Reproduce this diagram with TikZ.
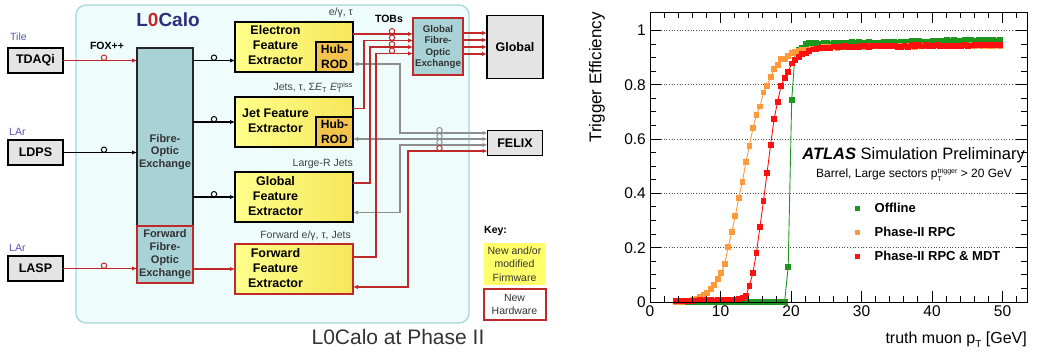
\documentclass[tikz,border=0pt]{standalone}
\usepackage{fontspec}
\setmainfont{Liberation Sans}
\usetikzlibrary{positioning,arrows.meta,calc,plotmarks}
\definecolor{calored}{HTML}{C0282A}
\definecolor{caloblue}{HTML}{2E2E7A}
\definecolor{framefill}{HTML}{EEFCFC}
\definecolor{frameline}{HTML}{A6D6D8}
\definecolor{foxteal}{HTML}{A9D2D7}
\definecolor{feleft}{HTML}{FFFF8C}
\definecolor{feright}{HTML}{F6E65A}
\definecolor{hubyellow}{HTML}{F2C44E}
\definecolor{boxgrey}{HTML}{E4E4E4}
\definecolor{linkgrey}{HTML}{8E8E8E}
\definecolor{keyyellow}{HTML}{FFFF6A}
\definecolor{detblue}{HTML}{5555B0}
\definecolor{offgreen}{HTML}{1E961E}
\definecolor{rpcorange}{HTML}{FF9A3C}
\definecolor{mdtred}{HTML}{FF1010}
\newcommand\fetext[1]{\begin{tabular}{@{}c@{}}#1\end{tabular}\rule{37pt}{0pt}}
\tikzset{
  calobox/.style={draw=frameline,line width=1.2,fill=framefill,rounded corners=10,minimum width=393,minimum height=318,inner sep=0,outer sep=0},
  sysbox/.style={draw,line width=1.3,fill=boxgrey,inner sep=0,outer sep=0,minimum width=55,minimum height=25,font=\fontsize{12.5}{15}\selectfont\bfseries},
  foxbox/.style={draw=black!85,line width=1.2,fill=foxteal,inner sep=0,outer sep=0,minimum width=56,align=center,font=\fontsize{11}{13}\selectfont\bfseries,text=black!80},
  foxtxt/.style={inner sep=0,align=center,font=\fontsize{11}{12.5}\selectfont\bfseries,text=black!80},
  newfox/.style={foxbox,draw=calored,line width=2},
  febox/.style={draw,line width=2,left color=feleft,right color=feright,inner sep=0,outer sep=0,minimum width=118,minimum height=50,font=\fontsize{12.5}{15}\selectfont\bfseries},
  newfe/.style={febox,draw=calored},
  hubbox/.style={draw,line width=1.2,fill=hubyellow,inner sep=0,outer sep=0,minimum width=37,minimum height=30,align=center,font=\fontsize{12}{15}\selectfont\bfseries},
  datalbl/.style={anchor=base east,inner sep=0,font=\fontsize{10.5}{12}\selectfont,text=black!75},
  detlbl/.style={inner sep=0,font=\fontsize{10.5}{12}\selectfont,text=detblue},
  notelbl/.style={inner sep=0,font=\fontsize{10.5}{12}\selectfont\bfseries},
  keybox/.style={inner sep=0,outer sep=0,minimum width=61,align=center,font=\fontsize{10.5}{13.3}\selectfont,text=black!80},
  link/.style={-{Latex[length=5pt,width=4.5pt]},line width=1.1},
  redlink/.style={link,draw=calored},
  greylink/.style={{Latex[length=5pt,width=4.5pt]}-{Latex[length=5pt,width=4.5pt]},line width=1.1,draw=linkgrey},
  redbilink/.style={greylink,draw=calored},
  ring/.style={line width=1},
  gridline/.style={dotted,line width=0.7,black!70},
  axisline/.style={line width=1},
  effcurve/.style={draw=#1,line width=0.9,mark=square*,mark size=2.4pt,mark options={fill=#1,draw=#1,solid}},
  ticklbl/.style={inner sep=0,font=\fontsize{15.5}{18}\selectfont},
  legmark/.style={minimum size=5,inner sep=0,outer sep=0},
  legtext/.style={inner sep=0,font=\fontsize{13}{15}\selectfont\bfseries},
}
\begin{document}
\begin{tikzpicture}[x=1pt,y=-1pt]
\useasboundingbox (0,0) rectangle (1037,353);
\node[calobox] (calo) at (272.5,164) {};
\node[inner sep=0,font=\fontsize{19}{22}\selectfont\bfseries,text=caloblue] (calotitle) at (168,20) {L\textcolor{calored}{0}Calo};
\node[sysbox] (tdaqi) at (35.5,60.5) {TDAQi};
\node[sysbox, below=67pt of tdaqi] (ldps) {LDPS};
\node[sysbox, below=91pt of ldps] (lasp) {LASP};
\node[detlbl, above=7pt of tdaqi.north west, anchor=south west, xshift=2pt] (tile) {Tile};
\node[detlbl, above=4pt of ldps.north west, anchor=south west, xshift=1pt] (larup) {LAr};
\node[detlbl, above=4pt of lasp.north west, anchor=south west, xshift=1pt] (lardown) {LAr};
\node[notelbl] (foxpp) at (107,45.5) {FOX++};
\node[foxbox, minimum height=178, right=74pt of tdaqi.north east, anchor=north west] (fox) {};
\node[foxtxt] (foxtext) at ([yshift=-15pt]fox.center) {Fibre-\\Optic\\Exchange};
\node[newfox, minimum height=57, below=0pt of fox] (ffox) {Forward\\Fibre-\\Optic\\Exchange};
\node[febox] (efe) at (294,47) {\fetext{Electron\\Feature\\Extractor}};
\node[febox, below=25pt of efe] (jfe) {\fetext{Jet Feature\\Extractor}};
\node[febox, below=25pt of jfe] (gfe) {\fetext{Global\\Feature\\Extractor}};
\node[newfe, below=22pt of gfe] (ffe) {\fetext{Forward\\Feature\\Extractor}};
\node[hubbox, anchor=south east] (ehub) at (efe.south east) {Hub-\\ROD};
\node[hubbox, anchor=south east] (jhub) at (jfe.south east) {Hub-\\ROD};
\node[datalbl] (egtau) at ([yshift=6pt]efe.north east) {e/γ, τ};
\node[datalbl] (jetsum) at ([yshift=6pt]jfe.north east) {Jets, τ, Σ\textit{E}\textsubscript{T} \textit{E}\rlap{\textsubscript{T}}\textsuperscript{miss}};
\node[datalbl] (largeR) at ([yshift=6pt]gfe.north east) {Large-R Jets};
\node[datalbl] (fwdobj) at ([xshift=-2pt,yshift=6pt]ffe.north east) {Forward e/γ, τ, Jets};
\node[newfox, minimum width=50, minimum height=57, font=\fontsize{9.7}{11.5}\selectfont\bfseries, right=60pt of efe] (gfox) {Global\\Fibre-\\Optic\\Exchange};
\node[sysbox, minimum width=56, minimum height=63, right=24pt of gfox] (glob) {Global};
\node[sysbox, below=52pt of glob] (felix) {FELIX};
\node[notelbl] (tobs) at (389,19) {TOBs};
\node[notelbl, anchor=west] (keylbl) at (484,231) {Key:};
\node[keybox, fill=keyyellow, minimum height=42, anchor=north west] (newfw) at (484,243) {New and/or\\modified\\Firmware};
\node[keybox, draw=calored, line width=2, fill=white, minimum width=62, minimum height=31, below=4pt of newfw] (newhw) {New\\Hardware};
\node[inner sep=0, font=\fontsize{21}{24}\selectfont, text=black!80] (caption) at (398,337) {L0Calo at Phase II};
\draw[redlink] (tdaqi) -- (fox.west |- tdaqi);
\draw[link] (ldps) -- (fox.west |- ldps);
\draw[redlink] (lasp) -- (ffox.west |- lasp);
\draw[redlink] (ffox.east |- ffe) -- (ffe);
\draw[link] (fox.east |- tdaqi) -- (efe.west |- tdaqi);
\draw[link] (fox.east |- jfe) -- (jfe);
\draw[link] (fox.east |- gfe) -- (gfe);
\draw[greylink] ([yshift=-7pt]ehub.east) -- ++(47pt,0pt) |- ([yshift=10pt]felix.west);
\draw[greylink] ([yshift=4pt]felix.west) -- ([yshift=4pt]felix.west -| jhub.east);
\draw[greylink] ([yshift=-15.5pt]gfe.east) -- ++(47pt,0pt) |- ([yshift=-2pt]felix.west);
\draw[redbilink] ([yshift=-18pt]ffe.east) -- ++(55pt,0pt) |- ([yshift=-8pt]felix.west);
\draw[redlink] ([yshift=13pt]efe.east) -- ([yshift=13pt]gfox.west);
\draw[redlink] ([yshift=13.5pt]jfe.east) -- ++(11pt,0pt) |- ([yshift=6.5pt]gfox.west);
\draw[redlink] ([yshift=14pt]gfe.east) -- ++(17pt,0pt) |- (gfox.west);
\draw[redlink] ([yshift=12pt]ffe.east) -- ++(23pt,0pt) |- ([yshift=-6.5pt]gfox.west);
\foreach \dy in {14,7,0,-7}
  \draw[redlink] ([yshift=\dy pt]gfox.east) -- ([yshift=\dy pt]glob.west);
\draw[ring, calored] ($(tdaqi.east)+(41pt,2.8pt)$) circle (2.7pt);
\draw[ring] ($(ldps.east)+(41pt,2.8pt)$) circle (2.7pt);
\draw[ring, calored] ($(lasp.east)+(41pt,2.8pt)$) circle (2.7pt);
\foreach \fe in {tdaqi,jfe,gfe}
  \draw[ring] ($(fox.east |- \fe)+(21pt,2.8pt)$) circle (2.7pt);
\foreach \dy in {13,6.5,0,-6.5}
  \draw[ring, calored] ($(gfox.west)+(-21pt,\dy pt+2.8pt)$) circle (2.7pt);
\foreach \dy/\c in {10/linkgrey,4/linkgrey,-2/linkgrey,-8/calored}
  \draw[ring, \c] ($(felix.west)+(-48pt,\dy pt+2.8pt)$) circle (2.7pt);
\begin{scope}[shift={(650,302)}, x=7.05pt, y=271.5pt]
  \foreach \g in {0.2,0.4,0.6,0.8,1}
    \draw[gridline] (0,\g) -- (53.48,\g);
  \pgfmathsetseed{3}
  \draw[effcurve=offgreen] plot[domain=3.6:19.1, samples=32] (\x,0.001)
    -- plot coordinates {(19.6,0.13) (20.1,0.745) (20.6,0.92) (21.1,0.928) (21.6,0.936)}
    -- plot[domain=22.1:49.6, samples=56] (\x,{0.951+0.00055*(\x-22)+0.005*(rnd-0.5)});
  \draw[effcurve=rpcorange] plot coordinates {(3.6,0) (4.1,0) (4.6,0.001) (5.1,0.002) (5.6,0.005) (6.1,0.008) (6.6,0.012) (7.1,0.018) (7.6,0.025) (8.1,0.034) (8.6,0.048) (9.1,0.063) (9.6,0.084) (10.1,0.106) (10.6,0.14) (11.1,0.204) (11.6,0.259) (12.1,0.318) (12.6,0.384) (13.1,0.441) (13.6,0.516) (14.1,0.575) (14.6,0.64) (15.1,0.69) (15.6,0.72) (16.1,0.772) (16.6,0.797) (17.1,0.828) (17.6,0.858) (18.1,0.873) (18.6,0.894) (19.1,0.895) (19.6,0.906) (20.1,0.918)}
    -- plot[domain=20.6:49.6, samples=59] (\x,{0.942+0.0002*(\x-35)-0.02*exp(-(\x-20.6)/2)+0.005*(rnd-0.5)});
  \draw[effcurve=mdtred] plot[domain=3.6:12.6, samples=19] (\x,{0.002+0.0007*(\x-3.6)+0.002*rnd})
    -- plot coordinates {(13.1,0.014) (13.6,0.022) (14.1,0.06) (14.6,0.108) (15.1,0.182) (15.6,0.277) (16.1,0.373) (16.6,0.474) (17.1,0.578) (17.6,0.674) (18.1,0.738) (18.6,0.797) (19.1,0.826) (19.6,0.848) (20.1,0.879) (20.6,0.891) (21.1,0.903) (21.6,0.913)}
    -- plot[domain=22.1:49.6, samples=56] (\x,{0.943+0.0002*(\x-35)-0.025*exp(-(\x-22)/1.5)+0.006*(rnd-0.5)});
  \draw[axisline] (0,0) rectangle (53.48,1.068);
  \foreach \t in {2,4,...,52}
    \draw[axisline] (\t,0) -- ++(0pt,6pt) (\t,1.068) -- ++(0pt,-6pt);
  \foreach \t in {0,10,...,50}
    \draw[axisline] (\t,0) -- ++(0pt,11pt) (\t,1.068) -- ++(0pt,-11pt);
  \foreach \t in {0.05,0.1,...,1.05}
    \draw[axisline] (0,\t) -- ++(6pt,0pt) (53.48,\t) -- ++(-6pt,0pt);
  \foreach \t in {0,0.2,0.4,0.6,0.8,1}
    \draw[axisline] (0,\t) -- ++(11pt,0pt) (53.48,\t) -- ++(-11pt,0pt);
  \foreach \t [count=\i] in {0,10,20,30,40,50}
    \node[ticklbl, anchor=north] (xtick\i) at ([yshift=-3pt]\t,0) {\t};
  \foreach \t [count=\i] in {0,0.2,0.4,0.6,0.8,1}
    \node[ticklbl, anchor=east] (ytick\i) at ([xshift=-4pt]0,\t) {\t};
\end{scope}
\node[inner sep=0, font=\fontsize{17}{20}\selectfont, rotate=90, anchor=east] (ytitle) at (597,12) {Trigger Efficiency};
\node[inner sep=0, font=\fontsize{16}{19}\selectfont, anchor=east] (xtitle) at (1027,340) {truth muon p\raisebox{-4pt}{\fontsize{10}{10}\selectfont T} [GeV]};
\node[inner sep=0, font=\fontsize{16.5}{19}\selectfont, anchor=base east] (atlas) at (1025,159) {\textbf{\textit{ATLAS}} Simulation Preliminary};
\node[inner sep=0, font=\fontsize{12}{14}\selectfont, anchor=base east] (selection) at (1012,177) {Barrel, Large sectors p\rlap{\raisebox{-4pt}{\fontsize{7}{7}\selectfont T}}\raisebox{4pt}{\fontsize{7}{7}\selectfont trigger} > 20 GeV};
\node[legmark, fill=offgreen] (legoff) at (857,208) {};
\node[legmark, fill=rpcorange, below=19pt of legoff] (legrpc) {};
\node[legmark, fill=mdtred, below=19pt of legrpc] (legmdt) {};
\node[legtext, right=15pt of legoff] (legofftxt) {Offline};
\node[legtext, right=15pt of legrpc] (legrpctxt) {Phase-II RPC};
\node[legtext, right=15pt of legmdt] (legmdttxt) {Phase-II RPC \& MDT};
\end{tikzpicture}
\end{document}
